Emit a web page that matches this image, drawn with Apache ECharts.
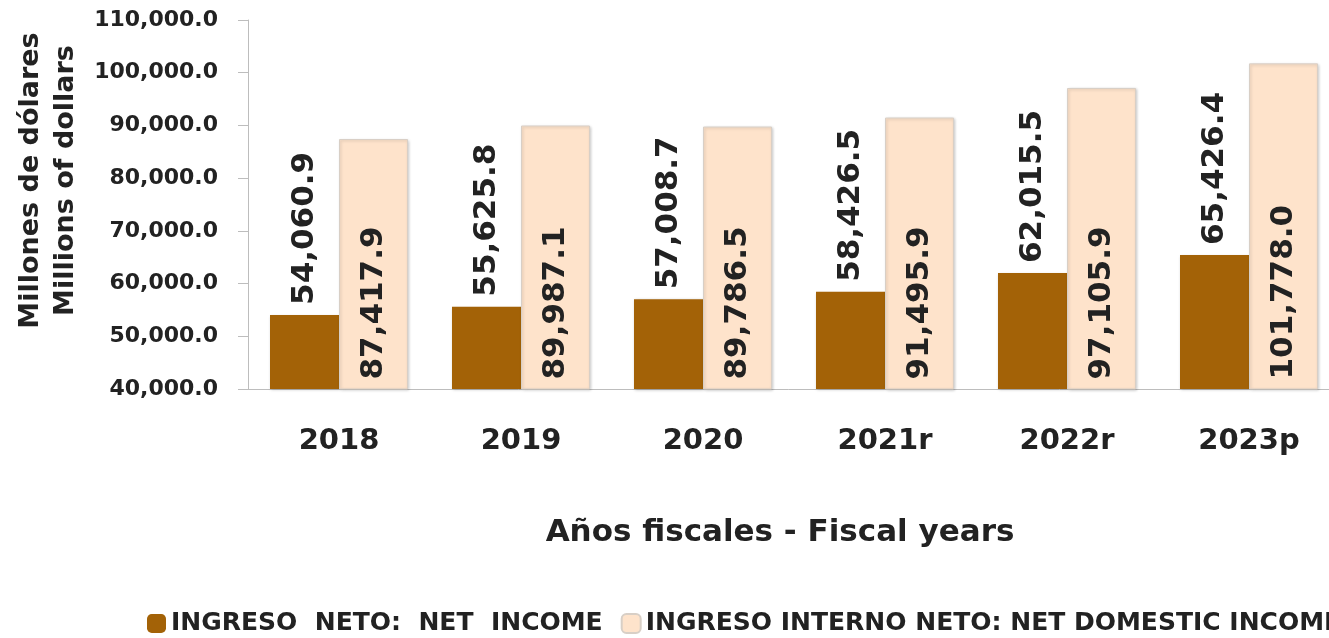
<!DOCTYPE html>
<html>
<head>
<meta charset="UTF-8">
<title>Ingreso neto</title>
<style>
  html, body { margin: 0; padding: 0; background: #fff; }
  #main { width: 1329px; height: 638px; }
</style>
</head>
<body>
<div id="main"></div>
<script src="https://cdn.jsdelivr.net/npm/echarts@6/dist/echarts.min.js"></script>
<script>
  // datos
  var years = ['2018', '2019', '2020', '2021r', '2022r', '2023p'];
  var netIncome = [54060.9, 55625.8, 57008.7, 58426.5, 62015.5, 65426.4];
  var netDomestic = [87417.9, 89987.1, 89786.5, 91495.9, 97105.9, 101778.0];
  var seriesNames = ['INGRESO  NETO:  NET  INCOME', 'INGRESO INTERNO NETO: NET DOMESTIC INCOME'];

  var font = "'DejaVu Sans', sans-serif";
  function fmt(v) {
    return Number(v).toLocaleString('en-US', { minimumFractionDigits: 1, maximumFractionDigits: 1 });
  }

  var myChart = echarts.init(document.getElementById('main'));

  var option = {
    animation: false,
    textStyle: { fontFamily: font },
    grid: { left: 248, right: -11, top: 20, bottom: 249, outerBoundsMode: 'none' },
    legend: {
      data: seriesNames,
      left: 147,
      top: 611,
      width: 2000,
      padding: 0,
      itemWidth: 19,
      itemHeight: 19,
      itemGap: 18,
      textStyle: { fontFamily: font, fontWeight: 'bold', fontSize: 25, color: '#222' }
    },
    xAxis: {
      type: 'category',
      data: years,
      name: 'Años fiscales - Fiscal years',
      nameLocation: 'middle',
      nameGap: 128,
      nameTextStyle: { fontFamily: font, fontWeight: 'bold', fontSize: 31, color: '#222', padding: [0, 28, 0, 0] },
      axisLine: { lineStyle: { color: '#bdbdbd' } },
      axisTick: { length: 11, lineStyle: { color: '#bdbdbd' } },
      axisLabel: { margin: 38, fontFamily: font, fontWeight: 'bold', fontSize: 29, color: '#222' }
    },
    yAxis: {
      type: 'value',
      min: 40000,
      max: 110000,
      interval: 10000,
      name: 'Millones de dólares\nMillions of dollars',
      nameLocation: 'middle',
      nameGap: 165,
      nameRotate: 90,
      nameTextStyle: { fontFamily: font, fontWeight: 'bold', fontSize: 27, color: '#222', lineHeight: 35, padding: [0, 0, 0, 48] },
      axisLine: { show: true, lineStyle: { color: '#bdbdbd' } },
      axisTick: { show: true, length: 10, lineStyle: { color: '#bdbdbd' } },
      splitLine: { show: false },
      axisLabel: {
        margin: 30,
        fontFamily: font, fontWeight: 'bold', fontSize: 22, color: '#222',
        formatter: fmt
      }
    },
    series: [
      {
        name: seriesNames[0],
        type: 'bar',
        data: netIncome,
        barWidth: 69,
        barGap: '0%',
        itemStyle: {
          color: '#A36207',
          shadowColor: 'rgba(0,0,0,0.25)', shadowBlur: 3, shadowOffsetX: 1, shadowOffsetY: 1
        },
        label: {
          show: true,
          position: 'top',
          rotate: 90,
          align: 'left',
          verticalAlign: 'middle',
          distance: 10,
          fontFamily: font, fontWeight: 'bold', fontSize: 31, color: '#222',
          formatter: function (p) { return fmt(p.value); }
        }
      },
      {
        name: seriesNames[1],
        type: 'bar',
        data: netDomestic,
        barWidth: 69,
        itemStyle: {
          color: '#FEE3CB',
          borderColor: '#d8cfc6', borderWidth: 1,
          shadowColor: 'rgba(0,0,0,0.2)', shadowBlur: 3, shadowOffsetX: 1, shadowOffsetY: 1
        },
        label: {
          show: true,
          position: 'insideBottom',
          rotate: 90,
          align: 'left',
          verticalAlign: 'middle',
          distance: 10,
          fontFamily: font, fontWeight: 'bold', fontSize: 31, color: '#222',
          formatter: function (p) { return fmt(p.value); }
        }
      }
    ]
  };

  myChart.setOption(option);
</script>
</body>
</html>
